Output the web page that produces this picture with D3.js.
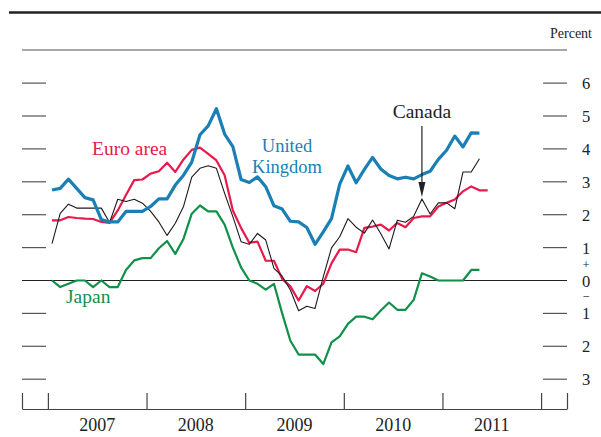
<!DOCTYPE html>
<html>
<head>
<meta charset="utf-8">
<script src="https://cdn.jsdelivr.net/npm/d3@7"></script>
<style>
  html, body { margin: 0; padding: 0; background: #fff; }
  svg { display: block; }
  text { font-family: "Liberation Serif", "Times New Roman", serif; }
</style>
</head>
<body>
<svg id="chart" width="601" height="437"></svg>
<script>
// Twelve-month consumer price inflation, monthly, from January 2007
const startYear = 2007;

const ukValues = [2.75, 2.8, 3.08, 2.8, 2.52, 2.45, 1.85, 1.78, 1.78, 2.1,
  2.1, 2.1, 2.25, 2.48, 2.48, 2.9, 3.2, 3.6, 4.43, 4.7,
  5.22, 4.45, 4.07, 3.07, 2.98, 3.15, 2.85, 2.27, 2.17, 1.8,
  1.78, 1.61, 1.1, 1.48, 1.88, 2.93, 3.48, 2.97, 3.38, 3.74,
  3.39, 3.19, 3.09, 3.14, 3.09, 3.22, 3.32, 3.68, 3.96, 4.39,
  4.06, 4.49, 4.48];

const euroValues = [1.83, 1.83, 1.93, 1.9, 1.88, 1.87, 1.78, 1.75, 2.13, 2.6,
  3.05, 3.07, 3.25, 3.32, 3.58, 3.3, 3.68, 3.97, 4.04, 3.85,
  3.65, 3.2, 2.13, 1.6, 1.15, 1.18, 0.6, 0.6, 0.05, -0.18,
  -0.61, -0.17, -0.32, -0.1, 0.52, 0.94, 0.94, 0.86, 1.6, 1.64,
  1.7, 1.52, 1.75, 1.62, 1.9, 1.95, 1.95, 2.25, 2.36, 2.46,
  2.71, 2.86, 2.74, 2.74];

const canadaValues = [1.12, 2.04, 2.32, 2.2, 2.2, 2.2, 2.2, 1.76, 2.47, 2.4,
  2.47, 2.35, 2.1, 1.78, 1.37, 1.74, 2.25, 3.14, 3.41, 3.49,
  3.41, 2.65, 1.94, 1.18, 1.1, 1.43, 1.23, 0.37, 0.13, -0.29,
  -0.92, -0.78, -0.85, 0.11, 0.99, 1.33, 1.88, 1.62, 1.44, 1.84,
  1.42, 0.96, 1.83, 1.77, 1.95, 2.48, 2.02, 2.36, 2.36, 2.18,
  3.3, 3.3, 3.7];

const japanValues = [0, -0.2, -0.1, 0, 0, -0.2, 0, -0.2, -0.2, 0.32,
  0.61, 0.68, 0.68, 0.98, 1.2, 0.81, 1.27, 2.03, 2.28, 2.1,
  2.1, 1.7, 1.0, 0.4, 0, -0.1, -0.28, -0.1, -1.0, -1.83,
  -2.25, -2.25, -2.25, -2.54, -1.88, -1.7, -1.32, -1.1, -1.1, -1.18,
  -0.91, -0.67, -0.89, -0.89, -0.59, 0.22, 0.12, 0, 0, 0,
  0, 0.32, 0.32];

const years = [2007, 2008, 2009, 2010, 2011];
const yTicks = [6, 5, 4, 3, 2, 1, 0, -1, -2, -3];
const yTickLabels = ["6", "5", "4", "3", "2", "1", "0", "1", "2", "3"];

// Month of the Canada call-out arrow (October 2010)
const canadaArrowIndex = 45;

const colors = {
  uk: "#1a7fb5",
  euro: "#e8194b",
  japan: "#11904a",
  canada: "#1a1a1a"
};

const svg = d3.select("#chart");

const left = 22, right = 567;
const pad = 3.15 / 12;
const x = d3.scaleLinear()
  .domain([startYear - pad, years[years.length - 1] + 1 + pad])
  .range([left, right]);
const y = d3.scaleLinear().domain([-3, 6]).range([379.2, 83.1]);

const monthTime = i => startYear + (i + 0.5) / 12;

// Rules across the top
svg.append("line")
  .attr("x1", 9).attr("x2", 601).attr("y1", 12.5).attr("y2", 12.5)
  .attr("stroke", "#222").attr("stroke-width", 2.6);
svg.append("line")
  .attr("x1", left).attr("x2", right).attr("y1", 50).attr("y2", 50)
  .attr("stroke", "#8a8a8a").attr("stroke-width", 1.5);

svg.append("text")
  .attr("x", 592).attr("y", 38)
  .attr("text-anchor", "end")
  .attr("font-size", 14)
  .attr("fill", "#222")
  .text("Percent");

// Value ticks on both sides
const tickG = svg.append("g");
yTicks.forEach(v => {
  if (v === 0) return;
  tickG.append("line")
    .attr("x1", left).attr("x2", left + 24)
    .attr("y1", y(v)).attr("y2", y(v))
    .attr("stroke", "#555").attr("stroke-width", 1.2);
  tickG.append("line")
    .attr("x1", right - 24).attr("x2", right)
    .attr("y1", y(v)).attr("y2", y(v))
    .attr("stroke", "#555").attr("stroke-width", 1.2);
});

// Zero line
svg.append("line")
  .attr("x1", left).attr("x2", right)
  .attr("y1", y(0)).attr("y2", y(0))
  .attr("stroke", "#222").attr("stroke-width", 1.2);

// Tick labels on the right, with the sign markers around zero
const labelG = svg.append("g")
  .attr("fill", "#222").attr("text-anchor", "middle");
yTicks.forEach((v, k) => {
  labelG.append("text")
    .attr("x", 586).attr("y", y(v) + 6)
    .attr("font-size", 16.5)
    .text(yTickLabels[k]);
});
labelG.append("text").attr("x", 586).attr("y", (y(1) + y(0)) / 2 + 4.5)
  .attr("font-size", 12.5).text("+");
labelG.append("text").attr("x", 586).attr("y", (y(0) + y(-1)) / 2 + 4)
  .attr("font-size", 12.5).text("\u2212");

// Time axis along the bottom
const axisY = 409;
const axisG = svg.append("g").attr("transform", `translate(0,${axisY})`);
const boundaryTicks = [x.domain()[0]].concat(years, [years[years.length - 1] + 1], [x.domain()[1]]);
axisG.call(
  d3.axisBottom(x)
    .tickValues(boundaryTicks)
    .tickSize(-16)
    .tickSizeOuter(0)
    .tickFormat("")
);
axisG.select(".domain").attr("stroke", "#444").attr("stroke-width", 1.2);
axisG.selectAll(".tick line").attr("stroke", "#444").attr("stroke-width", 1.2);

svg.append("g")
  .attr("font-size", 18).attr("fill", "#222").attr("text-anchor", "middle")
  .selectAll("text")
  .data(years)
  .join("text")
  .attr("x", d => x(d + 0.5))
  .attr("y", 431)
  .text(d => d);

// Series lines
const line = d3.line()
  .x((d, i) => x(monthTime(i)))
  .y(d => y(d));

const series = [
  { values: japanValues, color: colors.japan, width: 2.2 },
  { values: euroValues, color: colors.euro, width: 2.2 },
  { values: canadaValues, color: colors.canada, width: 1.1 },
  { values: ukValues, color: colors.uk, width: 3.2 }
];

svg.append("g")
  .selectAll("path")
  .data(series)
  .join("path")
  .attr("d", d => line(d.values))
  .attr("fill", "none")
  .attr("stroke", d => d.color)
  .attr("stroke-width", d => d.width)
  .attr("stroke-linejoin", "round");

// Series labels
const seriesLabels = svg.append("g").attr("font-size", 19.5);
seriesLabels.append("text")
  .attr("x", 92).attr("y", 155)
  .attr("fill", colors.euro)
  .text("Euro area");
seriesLabels.append("text")
  .attr("x", 287).attr("y", 152)
  .attr("text-anchor", "middle")
  .attr("font-size", 18.5)
  .attr("fill", colors.uk)
  .text("United");
seriesLabels.append("text")
  .attr("x", 287).attr("y", 173)
  .attr("text-anchor", "middle")
  .attr("font-size", 18.5)
  .attr("fill", colors.uk)
  .text("Kingdom");
seriesLabels.append("text")
  .attr("x", 66).attr("y", 303)
  .attr("fill", colors.japan)
  .text("Japan");

// Canada label with arrow pointing at its line
const ax = x(monthTime(canadaArrowIndex));
const tipY = y(canadaValues[canadaArrowIndex]) - 2;
seriesLabels.append("text")
  .attr("x", ax).attr("y", 118)
  .attr("text-anchor", "middle")
  .attr("fill", "#222")
  .text("Canada");
svg.append("line")
  .attr("x1", ax).attr("x2", ax)
  .attr("y1", 126).attr("y2", tipY - 12)
  .attr("stroke", "#222").attr("stroke-width", 1.2);
svg.append("path")
  .attr("d", `M${ax - 3.5},${tipY - 15} L${ax + 3.5},${tipY - 15} L${ax},${tipY} Z`)
  .attr("fill", "#222");
</script>
</body>
</html>
